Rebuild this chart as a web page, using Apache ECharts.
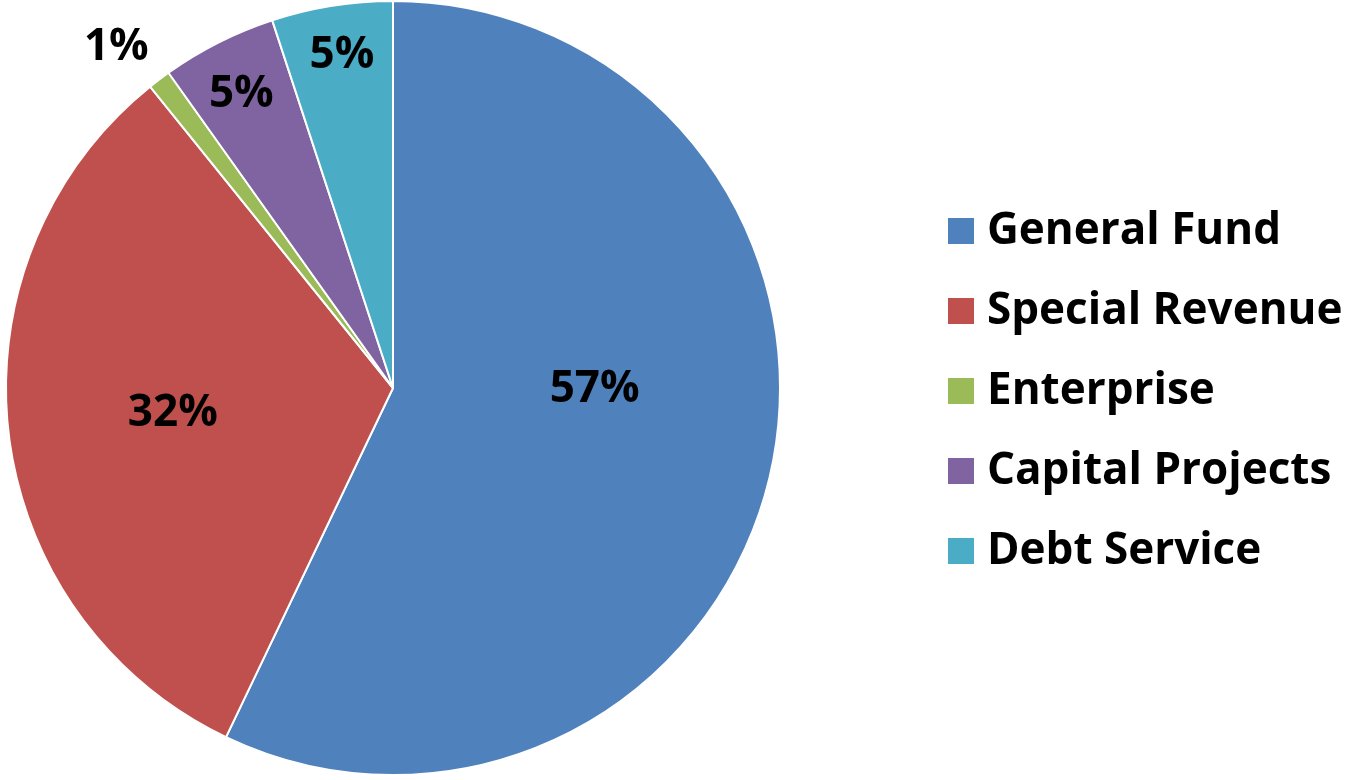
<!DOCTYPE html>
<html>
<head>
<meta charset="utf-8">
<script src="https://cdn.jsdelivr.net/npm/echarts@6/dist/echarts.min.js"></script>
<style>
  html, body { margin: 0; padding: 0; background: #fff; }
  #main { width: 1347px; height: 780px; }
</style>
</head>
<body>
<div id="main"></div>
<script>
// fund names and their share of the total (percent)
var funds = ['General Fund', 'Special Revenue', 'Enterprise', 'Capital Projects', 'Debt Service'];
var shares = [57.1, 32.1, 0.95, 4.8, 5.05];
var colors = ['#4F81BD', '#C0504D', '#9BBB59', '#8064A2', '#4BACC6'];

// nudges so labels sit where the original puts them
var labelNudge = [[10, -42], [-25, 3], [-158, -184], [-63, -118], [-20, -138]];

var myChart = echarts.init(document.getElementById('main'));

myChart.setOption({
  animation: false,
  color: colors,
  legend: {
    orient: 'vertical',
    left: 941,
    top: 201,
    itemWidth: 28,
    itemHeight: 28,
    itemGap: 30,
    icon: 'rect',
    textStyle: {
      fontFamily: 'Open Sans',
      fontWeight: 'bold',
      fontSize: 44,
      color: '#000',
      lineHeight: 50,
      padding: [0, 0, 0, 7]
    },
    data: funds
  },
  series: [
    {
      type: 'pie',
      center: [393, 388],
      radius: 387,
      startAngle: 90,
      clockwise: true,
      avoidLabelOverlap: false,
      itemStyle: {
        borderColor: '#fff',
        borderWidth: 2
      },
      label: {
        show: true,
        position: 'inside',
        fontFamily: 'Open Sans',
        fontWeight: 'bold',
        fontSize: 44,
        color: '#000',
        formatter: function (p) { return Math.round(p.value) + '%'; }
      },
      labelLine: { show: false },
      labelLayout: function (p) {
        var n = labelNudge[p.dataIndex];
        return { dx: n[0], dy: n[1] };
      },
      emphasis: { disabled: true },
      data: funds.map(function (name, i) {
        return { name: name, value: shares[i] };
      })
    }
  ]
});
</script>
</body>
</html>
